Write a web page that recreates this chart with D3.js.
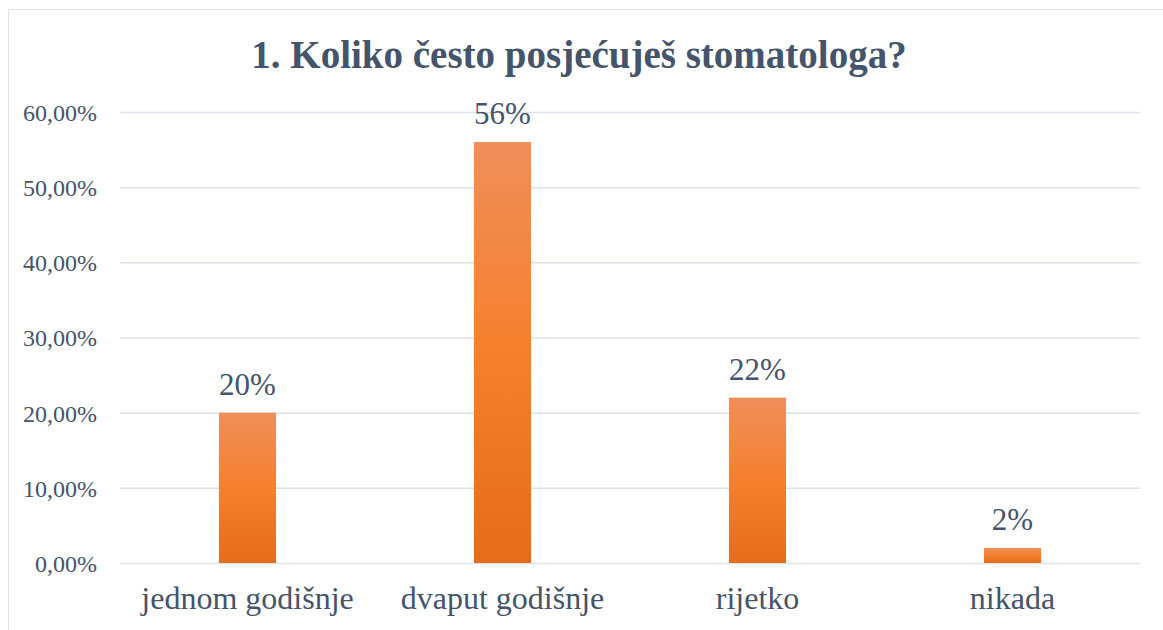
<!DOCTYPE html>
<html>
<head>
<meta charset="utf-8">
<script src="https://cdn.jsdelivr.net/npm/d3@7"></script>
<style>
  body { margin: 0; background: #fff; }
</style>
</head>
<body>
<div id="chart"></div>
<script>
const categories = ['jednom godišnje', 'dvaput godišnje', 'rijetko', 'nikada'];
const values = [0.20, 0.56, 0.22, 0.02];
const valueLabels = ['20%', '56%', '22%', '2%'];
const yTicks = [0, 0.1, 0.2, 0.3, 0.4, 0.5, 0.6];
const title = '1. Koliko često posjećuješ stomatologa?';

const width = 1163;
const height = 630;
const margin = {top: 112, right: 23, bottom: 67, left: 120};
const font = 'Liberation Serif';
const ink = '#44546A';

const svg = d3.select('#chart')
    .append('svg')
        .attr('width', width)
        .attr('height', height)
        .attr('font-family', font);

// bar gradient
const grad = svg.append('defs')
    .append('linearGradient')
        .attr('id', 'barGrad')
        .attr('x1', 0).attr('y1', 0)
        .attr('x2', 0).attr('y2', 1);
grad.append('stop').attr('offset', '0%').attr('stop-color', '#F08E5A');
grad.append('stop').attr('offset', '50%').attr('stop-color', '#F5802C');
grad.append('stop').attr('offset', '100%').attr('stop-color', '#E56C1A');

// chart frame
svg.append('rect')
    .attr('x', 8.5).attr('y', 9.5)
    .attr('width', width + 10).attr('height', height + 10)
    .attr('fill', 'none')
    .attr('stroke', '#DEE2EA')
    .attr('stroke-width', 1);

const x = d3.scaleBand()
    .domain(categories)
    .range([margin.left, width - margin.right])
    .paddingInner(0.776)
    .paddingOuter(0.388);

const y = d3.scaleLinear()
    .domain([0, 0.6])
    .range([height - margin.bottom, margin.top]);

const fmt = d => d3.format('.2f')(d * 100).replace('.', ',') + '%';

const yAxis = g =>
    g
        .attr('transform', `translate(${margin.left},0)`)
        .call(d3.axisLeft(y)
            .tickValues(yTicks)
            .tickFormat(fmt)
            .tickSize(-(width - margin.right - margin.left))
            .tickPadding(23))
        .attr('font-family', font)
        .call(g => g.select('.domain').remove())
        .call(g => g.selectAll('.tick line')
            .attr('stroke', '#DEE2EA')
            .attr('stroke-width', 1.5))
        .call(g => g.selectAll('.tick text')
            .attr('fill', ink)
            .attr('font-family', font)
            .attr('font-size', 24)
            .attr('dy', '0.35em'));

const xAxis = g =>
    g
        .attr('transform', `translate(0,${height - margin.bottom})`)
        .call(d3.axisBottom(x).tickSize(0).tickPadding(23))
        .attr('font-family', font)
        .call(g => g.select('.domain').remove())
        .call(g => g.selectAll('.tick text')
            .attr('fill', ink)
            .attr('font-family', font)
            .attr('font-size', 32));

svg.append('g').call(yAxis);

svg.append('g')
    .selectAll('rect')
    .data(values)
    .join('rect')
        .attr('x', (d, i) => x(categories[i]))
        .attr('y', d => y(d))
        .attr('width', x.bandwidth())
        .attr('height', d => y(0) - y(d))
        .attr('fill', 'url(#barGrad)');

svg.append('g').call(xAxis);

svg.append('g')
    .selectAll('text')
    .data(values)
    .join('text')
        .attr('x', (d, i) => x(categories[i]) + x.bandwidth() / 2)
        .attr('y', d => y(d) - 18)
        .attr('text-anchor', 'middle')
        .attr('fill', ink)
        .attr('font-family', font)
        .attr('font-size', 31)
        .text((d, i) => valueLabels[i]);

svg.append('text')
    .attr('x', 579)
    .attr('y', 68)
    .attr('text-anchor', 'middle')
    .attr('fill', ink)
    .attr('font-family', font)
    .attr('font-size', 39)
    .attr('font-weight', 'bold')
    .text(title);
</script>
</body>
</html>
